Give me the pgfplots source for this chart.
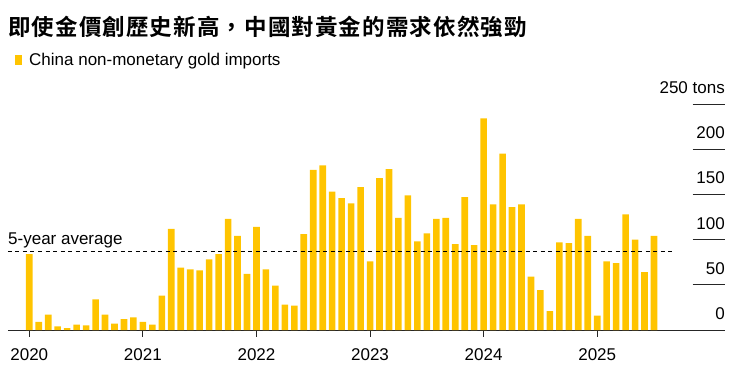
\documentclass[border=0pt]{standalone}
\usepackage{pgfplots}
\pgfplotsset{compat=1.18}
\usepackage{fontspec}
\setmainfont{Liberation Sans}
\newfontfamily\cjk{Noto Sans CJK TC}[BoldFont={* Bold}]
\definecolor{bbyellow}{RGB}{255,196,0}
\begin{document}
\begin{tikzpicture}
\useasboundingbox (0,-372pt) rectangle (740pt,0pt);
\node[anchor=base west, inner sep=0pt, font=\cjk\bfseries\fontsize{22.5}{26}\selectfont\addfontfeature{LetterSpace=5}] at (8pt,-35pt) {即使金價創歷史新高，中國對黃金的需求依然強勁};
\fill[bbyellow] (15pt,-55pt) rectangle (22pt,-65pt);
\node[anchor=base west, inner sep=0pt, font=\fontsize{17}{20}\selectfont] at (29pt,-65pt) {China non-monetary gold imports};
\begin{axis}[
 at={(8pt,-330pt)}, anchor=south west, scale only axis, width=717pt, height=226pt,
 xmin=-2.25, xmax=73.5, ymin=0, ymax=250, clip=false,
 axis line style={draw=none},
 xtick={0,12,24,36,48,60}, xticklabels={2020,2021,2022,2023,2024,2025},
 ytick={0,50,100,150,200,250}, yticklabels={0,50,100,150,200,250 tons},
 yticklabel pos=right,
 tick style={draw=none},
 xticklabel style={anchor=north, inner sep=0pt, yshift=-18pt},
 yticklabel style={anchor=base east, inner sep=0pt, yshift=10.5pt},
 ticklabel style={font=\fontsize{17}{20}\selectfont},
 /pgf/number format/assume math mode=true,
]
\draw[line width=0.9pt, black!85] (axis cs:-2.25,0) -- (axis cs:73.5,0);
\draw[line width=0.9pt, black!85] (axis cs:0,0) -- ++(0pt,-7pt);
\draw[line width=0.9pt, black!85] (axis cs:12,0) -- ++(0pt,-7pt);
\draw[line width=0.9pt, black!85] (axis cs:24,0) -- ++(0pt,-7pt);
\draw[line width=0.9pt, black!85] (axis cs:36,0) -- ++(0pt,-7pt);
\draw[line width=0.9pt, black!85] (axis cs:48,0) -- ++(0pt,-7pt);
\draw[line width=0.9pt, black!85] (axis cs:60,0) -- ++(0pt,-7pt);
\addplot[ybar, bar width=6.6pt, fill=bbyellow, draw=none] coordinates {
(0,84) (1,9) (2,17) (3,4) (4,2) (5,6) (6,5) (7,34) (8,17) (9,7) (10,12) (11,14)
(12,9) (13,6) (14,38) (15,112) (16,69) (17,67) (18,66) (19,78) (20,84) (21,123) (22,104) (23,62)
(24,114) (25,67) (26,49) (27,28) (28,27) (29,106) (30,177) (31,182) (32,153) (33,146) (34,140) (35,158)
(36,76) (37,168) (38,178) (39,124) (40,149) (41,98) (42,107) (43,123) (44,124) (45,95) (46,147) (47,94)
(48,234) (49,139) (50,195) (51,136) (52,139) (53,59) (54,44) (55,21) (56,97) (57,96) (58,123) (59,104)
(60,16) (61,76) (62,74) (63,128) (64,100) (65,64) (66,104)
};
\addplot[black, line width=1.2pt, dash pattern=on 4pt off 3.5pt] coordinates {(-2.25,86.6) (68.2,86.6)};
\draw[line width=0.9pt, black!85] (axis cs:70.08,50) -- (axis cs:73.5,50);
\draw[line width=0.9pt, black!85] (axis cs:70.08,100) -- (axis cs:73.5,100);
\draw[line width=0.9pt, black!85] (axis cs:70.08,150) -- (axis cs:73.5,150);
\draw[line width=0.9pt, black!85] (axis cs:70.08,200) -- (axis cs:73.5,200);
\draw[line width=0.9pt, black!85] (axis cs:70.08,250) -- (axis cs:73.5,250);
\end{axis}
\node[anchor=base west, inner sep=0pt, font=\fontsize{17}{20}\selectfont] at (8pt,-244pt) {5-year average};
\end{tikzpicture}
\end{document}
